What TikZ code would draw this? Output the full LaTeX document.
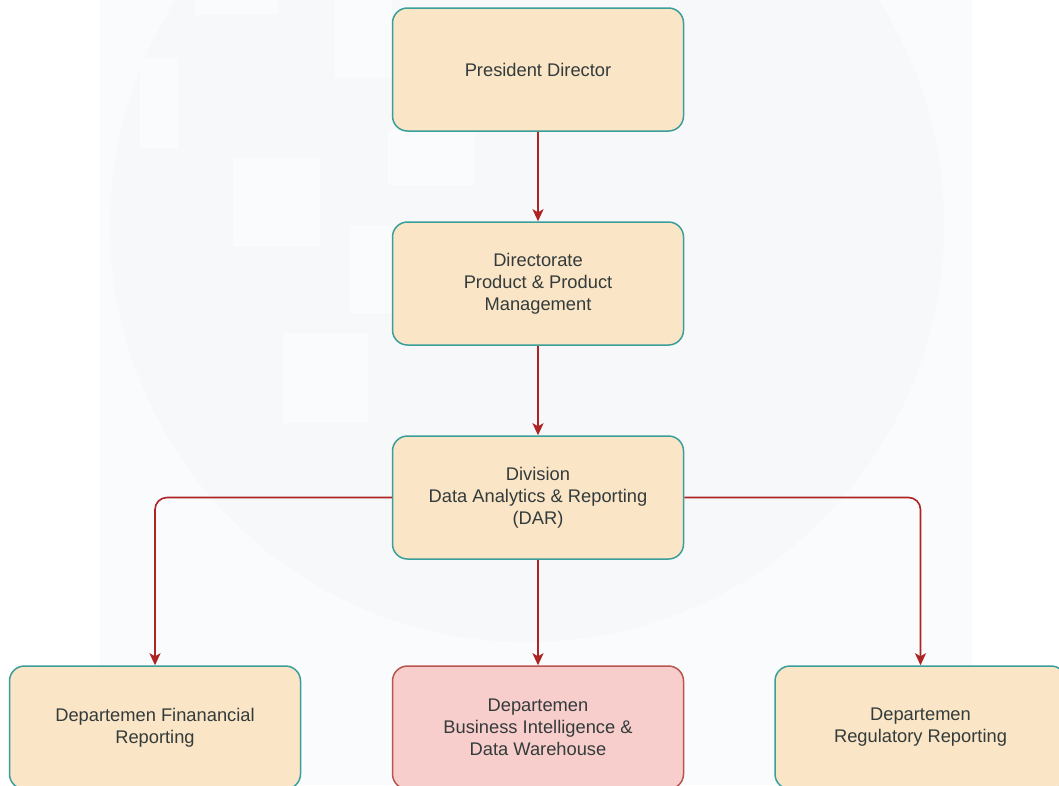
\documentclass[tikz,border=0pt]{standalone}
\usepackage{fontspec}
\setmainfont{Liberation Sans}
\usetikzlibrary{arrows.meta}
\definecolor{boxfill}{HTML}{FAE5C7}
\definecolor{boxline}{HTML}{3A9E9A}
\definecolor{pinkfill}{HTML}{F8CECC}
\definecolor{pinkline}{HTML}{B85450}
\definecolor{arrowred}{HTML}{AE2323}
\definecolor{txt}{HTML}{333B3B}
\definecolor{wmA}{HTML}{FAFBFC}
\definecolor{wmB}{HTML}{F6F8FA}
\tikzset{
  orgbox/.style={draw=boxline, fill=boxfill, line width=1.5pt, rounded corners=15pt,
    minimum width=291pt, minimum height=123pt, align=center, text=txt,
    font=\fontsize{18.3}{22}\selectfont, inner sep=0pt},
  pinkbox/.style={orgbox, draw=pinkline, fill=pinkfill},
  link/.style={draw=arrowred, line width=1.6pt, rounded corners=12pt,
    -{Stealth[length=12pt,width=11pt,inset=3pt]}}
}
\begin{document}
\begin{tikzpicture}[x=1pt,y=-1pt]
\useasboundingbox (0,0) rectangle (1059,785);
\clip (0,0) rectangle (1059,785);
\fill[white] (0,0) rectangle (1059,785);
% faint watermark
\fill[wmA] (100,0) rectangle (972,785);
\fill[wmB] (527,225) circle (417);
\fill[wmA] (195,0) rectangle (278,15);
\fill[wmA] (140,58) rectangle (178,148);
\fill[wmA] (233,158) rectangle (320,247);
\fill[wmA] (283,333) rectangle (368,423);
\fill[wmA] (335,0) rectangle (392,78);
\fill[wmA] (350,225) rectangle (392,313);
\fill[wmA] (388,130) rectangle (475,185);

\node[orgbox] (pd)  at (538,69.5)  {President Director};
\node[orgbox] (dir) at (538,283.5) {Directorate\\Product \& Product\\Management};
\node[orgbox] (dar) at (538,497.5) {Division\\Data Analytics \& Reporting\\(DAR)};
\node[orgbox]  (fin) at (155,727.5)   {Departemen Finanancial\\Reporting};
\node[pinkbox] (bi)  at (538,727.5) {Departemen\\Business Intelligence \&\\Data Warehouse};
\node[orgbox]  (reg) at (920.5,727.5) {Departemen\\Regulatory Reporting};

\draw[link] (pd) -- (dir);
\draw[link] (dir) -- (dar);
\draw[link] (dar) -- (bi);
\draw[link] (dar.west) -| (fin.north);
\draw[link] (dar.east) -| (reg.north);
\end{tikzpicture}
\end{document}
